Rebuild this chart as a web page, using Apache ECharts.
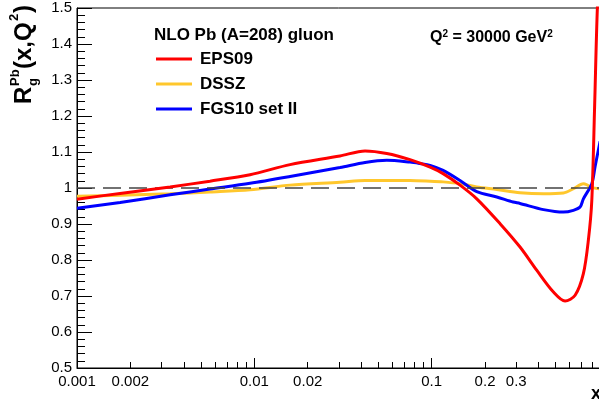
<!DOCTYPE html>
<html>
<head>
<meta charset="utf-8">
<script src="https://cdn.jsdelivr.net/npm/echarts@6/dist/echarts.min.js"></script>
<style>html,body{margin:0;padding:0;background:#fff}#c{width:599px;height:405px}</style>
</head>
<body>
<div id="c"></div>
<script>
// ---- data ----
const seriesNames = ['EPS09', 'DSSZ', 'FGS10 set II'];
const xEPS09 = [0.001, 0.00175, 0.00335, 0.00562, 0.00946, 0.0159, 0.0304, 0.0421, 0.0558, 0.0755, 0.098, 0.116, 0.1445, 0.1796, 0.243, 0.315, 0.392, 0.486, 0.565, 0.644, 0.717, 0.765, 0.800, 0.830, 0.860, 0.891];
const yEPS09 = [0.969, 0.985, 1.003, 1.019, 1.037, 1.065, 1.089, 1.103, 1.096, 1.079, 1.058, 1.040, 1.008, 0.970, 0.901, 0.836, 0.771, 0.711, 0.686, 0.702, 0.762, 0.855, 0.966, 1.23, 1.50, 1.62];
const xDSSZ = [0.001, 0.00175, 0.00335, 0.00562, 0.00946, 0.0159, 0.0304, 0.0421, 0.0755, 0.098, 0.116, 0.1445, 0.1796, 0.233, 0.315, 0.427, 0.553, 0.630, 0.717, 0.750, 0.800, 0.891];
const yDSSZ = [0.977, 0.980, 0.984, 0.989, 0.995, 1.008, 1.016, 1.021, 1.021, 1.019, 1.017, 1.012, 1.003, 0.996, 0.987, 0.984, 0.986, 0.998, 1.012, 1.009, 1.001, 0.998];
const xFGS10 = [0.001, 0.00175, 0.00335, 0.00562, 0.00946, 0.0159, 0.0304, 0.0421, 0.0558, 0.0755, 0.086, 0.098, 0.116, 0.1445, 0.1796, 0.233, 0.288, 0.315, 0.427, 0.553, 0.630, 0.687, 0.717, 0.800, 0.835, 0.891];
const yFGS10 = [0.944, 0.960, 0.981, 0.997, 1.013, 1.032, 1.057, 1.071, 1.077, 1.072, 1.068, 1.063, 1.049, 1.021, 0.990, 0.975, 0.961, 0.957, 0.940, 0.933, 0.938, 0.947, 0.970, 1.012, 1.06, 1.13];
const xLabelValues = [0.001, 0.002, 0.01, 0.02, 0.1, 0.2, 0.3];
const xMinorTickValues = [0.002,0.003,0.004,0.005,0.006,0.007,0.008,0.009,
  0.02,0.03,0.04,0.05,0.06,0.07,0.08,0.09,
  0.2,0.3,0.4,0.5,0.6,0.7,0.8,0.9];
const referenceLevel = 1;

const FONT = 'Liberation Sans, Arial, Helvetica, sans-serif';
const pairs = (xs, ys) => xs.map((x, i) => [x, ys[i]]);

const chart = echarts.init(document.getElementById('c'), null, {renderer: 'canvas'});
const option = {
  animation: false,
  backgroundColor: '#fff',
  textStyle: {fontFamily: FONT},
  title: [
    {text: 'NLO Pb (A=208) gluon', left: 149, top: 22,
     textStyle: {fontFamily: FONT, fontSize: 17, fontWeight: 'bold', color: '#000'}},
    {text: 'Q{s|2} = 30000 GeV{s|2}', left: 425, top: 24,
     textStyle: {fontFamily: FONT, fontSize: 16, fontWeight: 'bold', color: '#000',
       rich: {s: {fontFamily: FONT, fontSize: 10, fontWeight: 'bold', color: '#000', verticalAlign: 'top', padding: [0, 0, 8, 0]}}}}
  ],
  legend: {
    orient: 'vertical', left: 151, top: 44,
    data: seriesNames,
    itemWidth: 36, itemHeight: 20, itemGap: 5,
    textStyle: {fontFamily: FONT, fontSize: 17, fontWeight: 'bold', color: '#000', padding: [0, 0, 0, 3], lineHeight: 20},
    icon: 'path://M0,9 L36,9 L36,12 L0,12 Z'
  },
  grid: {left: 77, right: -10, top: 8, bottom: 37, show: true, borderColor: '#000', borderWidth: 1,
    backgroundColor: 'transparent', outerBoundsMode: 'none', containLabel: false},
  xAxis: [
    {type: 'log', logBase: 10, min: 0.001, max: 1, gridIndex: 0, position: 'bottom',
     name: 'x', nameLocation: 'end', nameGap: -18,
     nameTextStyle: {fontFamily: FONT, fontSize: 18, fontWeight: 'bold', color: '#000', align: 'left', verticalAlign: 'top', padding: [17, 0, 0, 0]},
     axisLine: {show: true, onZero: false, lineStyle: {color: '#000', width: 1}},
     axisTick: {show: true, inside: true, length: 10, lineStyle: {color: '#000', width: 1}},
     minorTick: {show: false},
     splitLine: {show: false},
     axisLabel: {show: true, margin: 6, fontFamily: FONT, fontSize: 15, color: '#000',
       customValues: xLabelValues, formatter: v => String(+Number(v).toPrecision(3)),
       showMinLabel: true, showMaxLabel: true, hideOverlap: false}},
    {type: 'log', logBase: 10, min: 0.001, max: 1, gridIndex: 0, position: 'bottom',
     axisLine: {show: false, onZero: false},
     axisTick: {show: true, inside: true, length: 6, customValues: xMinorTickValues, lineStyle: {color: '#000', width: 1}},
     splitLine: {show: false},
     axisLabel: {show: false}}
  ],
  yAxis: {
    type: 'value', min: 0.5, max: 1.5, interval: 0.1,
    axisLine: {show: true, onZero: false, lineStyle: {color: '#000', width: 1}},
    axisTick: {show: true, inside: true, length: 15, lineStyle: {color: '#000', width: 1}},
    minorTick: {show: true, splitNumber: 5, length: 8, lineStyle: {color: '#000', width: 1}},
    splitLine: {show: false}, minorSplitLine: {show: false},
    axisLabel: {margin: 5, fontFamily: FONT, fontSize: 15, color: '#000',
      formatter: v => String(+Number(v).toFixed(1)), showMinLabel: true, showMaxLabel: true, hideOverlap: false}
  },
  graphic: [{
    type: 'group', x: 36, y: 104, rotation: Math.PI / 2,
    children: [
      {type: 'text', x: 0, y: 0, style: {text: 'R', fontFamily: FONT, fontSize: 24, fontWeight: 'bold', fill: '#000', verticalAlign: 'bottom'}},
      {type: 'text', x: 18, y: -14, style: {text: 'Pb', fontFamily: FONT, fontSize: 13, fontWeight: 'bold', fill: '#000', verticalAlign: 'bottom'}},
      {type: 'text', x: 18, y: 4, style: {text: 'g', fontFamily: FONT, fontSize: 13, fontWeight: 'bold', fill: '#000', verticalAlign: 'bottom'}},
      {type: 'text', x: 35, y: 0, style: {text: '(x,Q', fontFamily: FONT, fontSize: 24, fontWeight: 'bold', fill: '#000', verticalAlign: 'bottom'}},
      {type: 'text', x: 83, y: -15, style: {text: '2', fontFamily: FONT, fontSize: 13, fontWeight: 'bold', fill: '#000', verticalAlign: 'bottom'}},
      {type: 'text', x: 91, y: 0, style: {text: ')', fontFamily: FONT, fontSize: 24, fontWeight: 'bold', fill: '#000', verticalAlign: 'bottom'}}
    ]
  }],
  series: [
    {name: 'DSSZ', type: 'line', xAxisIndex: 0, data: pairs(xDSSZ, yDSSZ), symbol: 'none', smooth: 0.3, clip: true,
     lineStyle: {color: '#ffc72c', width: 3}, itemStyle: {color: '#ffc72c'}, z: 3,
     markLine: {silent: true, symbol: 'none', label: {show: false},
       lineStyle: {color: '#444', width: 1.5, type: [18, 8]}, data: [{yAxis: referenceLevel}]}},
    {name: 'FGS10 set II', type: 'line', xAxisIndex: 0, data: pairs(xFGS10, yFGS10), symbol: 'none', smooth: 0.3, clip: true,
     lineStyle: {color: '#0000ff', width: 3}, itemStyle: {color: '#0000ff'}, z: 4},
    {name: 'EPS09', type: 'line', xAxisIndex: 0, data: pairs(xEPS09, yEPS09), symbol: 'none', smooth: 0.3, clip: true,
     lineStyle: {color: '#ff0000', width: 3}, itemStyle: {color: '#ff0000'}, z: 5}
  ]
};
chart.setOption(option);
</script>
</body>
</html>
